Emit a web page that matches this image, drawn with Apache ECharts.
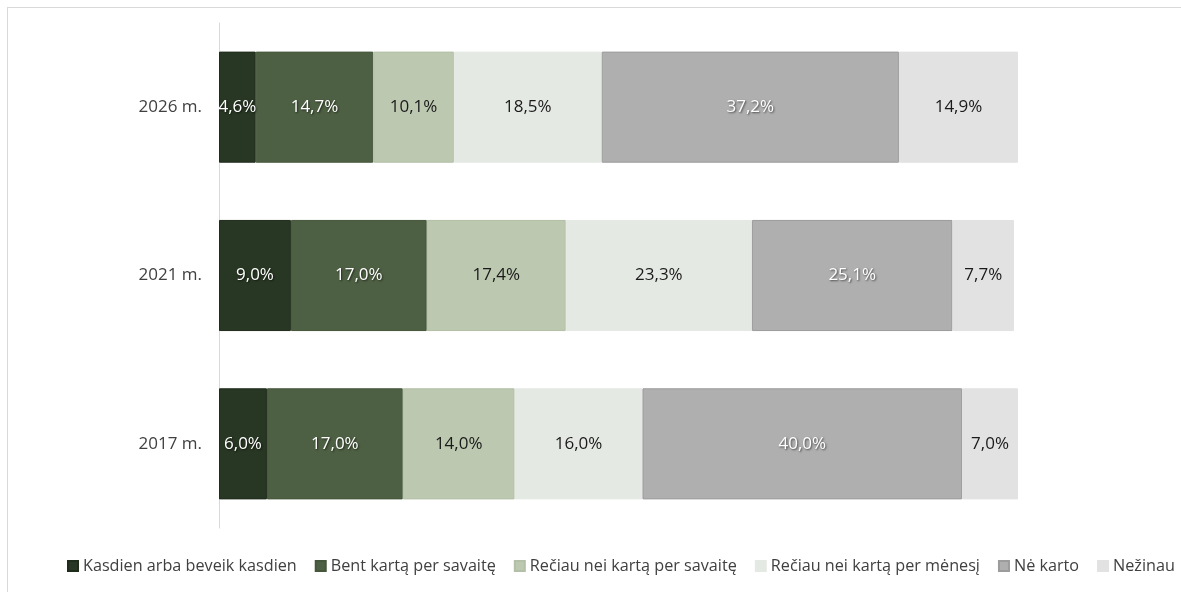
<!DOCTYPE html>
<html>
<head>
<meta charset="utf-8">
<script src="https://cdn.jsdelivr.net/npm/echarts@6/dist/echarts.min.js"></script>
<style>
html,body{margin:0;padding:0;background:#fff;}
#frame{position:absolute;left:7px;top:7px;width:1300px;height:700px;border-top:1px solid #d9d9d9;border-left:1px solid #d9d9d9;}
#chart{position:absolute;left:0;top:0;width:1181px;height:592px;}
</style>
</head>
<body>
<div id="frame"></div>
<div id="chart"></div>
<script>
const categories = ['2017 m.', '2021 m.', '2026 m.'];
const seriesNames = ['Kasdien arba beveik kasdien', 'Bent kartą per savaitę', 'Rečiau nei kartą per savaitę', 'Rečiau nei kartą per mėnesį', 'Nė karto', 'Nežinau'];
const kasdien = [6.0, 9.0, 4.6];
const bentKarta = [17.0, 17.0, 14.7];
const reciauSavaite = [14.0, 17.4, 10.1];
const reciauMenesi = [16.0, 23.3, 18.5];
const neKarto = [40.0, 25.1, 37.2];
const nezinau = [7.0, 7.7, 14.9];

const values = [kasdien, bentKarta, reciauSavaite, reciauMenesi, neKarto, nezinau];
const colors = ['#283723', '#4e6043', '#bcc8b0', '#e5e9e3', '#afafaf', '#e2e2e2'];
const borders = ['#1f2b1b', '#45563b', '#b3bfa6', '#e5e9e3', '#9c9c9c', '#e2e2e2'];
const whiteLabel = [true, true, false, false, true, false];
const font = '"Open Sans", "Noto Sans", sans-serif';

const chart = echarts.init(document.getElementById('chart'));
chart.setOption({
  animation: false,
  textStyle: {fontFamily: font},
  grid: {left: 219, top: 23, width: 799, height: 505, containLabel: false},
  legend: {
    left: 62, top: 553, width: 1160, itemWidth: 10, itemHeight: 10, itemGap: 18,
    icon: 'rect',
    textStyle: {fontFamily: font, fontSize: 16.2, color: '#404040', padding: [0, 0, 0, 0]},
    data: seriesNames
  },
  xAxis: {type: 'value', min: 0, max: 100, show: false},
  yAxis: {
    type: 'category', data: categories,
    axisLine: {show: true, lineStyle: {color: '#d9d9d9', width: 1}},
    axisTick: {show: false},
    axisLabel: {fontFamily: font, fontSize: 17, color: '#404040', margin: 17}
  },
  series: seriesNames.map((name, i) => ({
    name: name, type: 'bar', stack: 'all', barCategoryGap: '34%',
    data: values[i],
    itemStyle: {color: colors[i], borderColor: borders[i], borderWidth: 1},
    label: {
      show: true, position: 'inside',
      formatter: p => p.value.toFixed(1).replace('.', ',') + '%',
      fontFamily: font, fontSize: 17,
      color: whiteLabel[i] ? '#ffffff' : '#1a1a1a',
      textShadowColor: whiteLabel[i] ? 'rgba(0,0,0,0.6)' : 'transparent',
      textShadowBlur: whiteLabel[i] ? 2 : 0,
      textShadowOffsetX: 1, textShadowOffsetY: 1
    }
  }))
});
</script>
</body>
</html>
